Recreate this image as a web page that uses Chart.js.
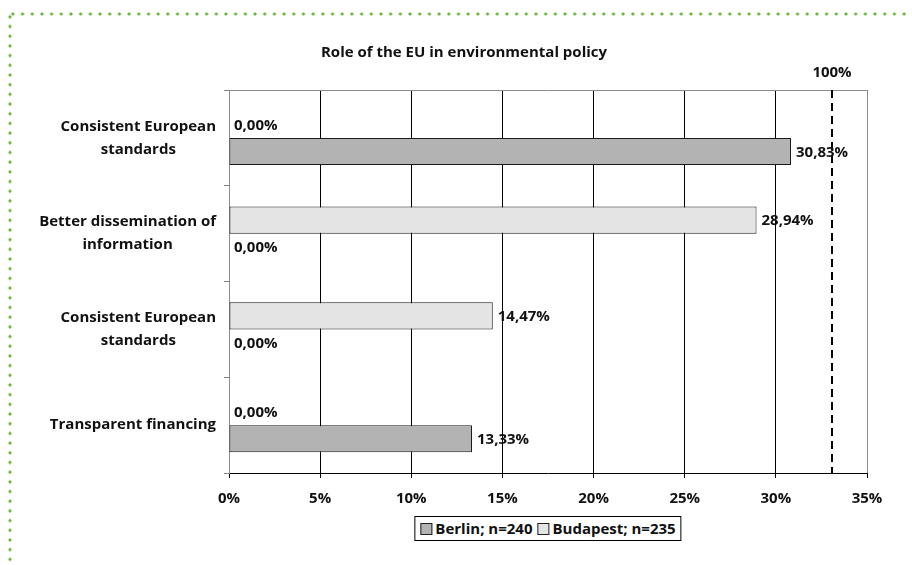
<!DOCTYPE html>
<html>
<head>
<meta charset="utf-8">
<script src="https://cdn.jsdelivr.net/npm/chart.js@4.4.0/dist/chart.umd.min.js"></script>
<style>
    html, body { margin: 0; padding: 0; background: #fff; }
    #wrap { position: relative; width: 912px; height: 565px; overflow: hidden; }
    #chart { position: absolute; left: 0; top: 0; }
    .dots-top {
        position: absolute; left: 8px; top: 12px; width: 904px; height: 4px;
        background: radial-gradient(circle, #6ab536 1.3px, transparent 1.8px) 0 0 / 9.7px 4px repeat-x;
    }
    .dots-left {
        position: absolute; left: 8px; top: 12px; width: 4px; height: 553px;
        background: radial-gradient(circle, #6ab536 1.3px, transparent 1.8px) 0 0 / 4px 9.7px repeat-y;
    }
    #legend {
        position: absolute; left: 548px; top: 516px; transform: translateX(-50%);
        border: 1px solid #000; padding: 1px 5px 2px 5px; white-space: nowrap;
        font: bold 15px "Open Sans", sans-serif; color: #111; background: #fff;
    }
    #legend span.item { display: inline-block; margin-right: 5px; }
    #legend span.item:last-child { margin-right: 0; }
    #legend i {
        display: inline-block; width: 10px; height: 10px; border: 1px solid #222;
        margin-right: 3px; vertical-align: -1px;
    }
</style>
</head>
<body>
<div id="wrap">
    <canvas id="chart" width="912" height="565"></canvas>
    <div class="dots-top"></div>
    <div class="dots-left"></div>
    <div id="legend"></div>
</div>
<script>
// data
const categories = [
    ["Consistent European", "standards"],
    ["Better dissemination of", "information"],
    ["Consistent European", "standards"],
    ["Transparent financing"]
];
const berlin   = [30.83, 0, 0, 13.33];
const budapest = [0, 28.94, 14.47, 0];
const seriesNames = ["Berlin; n=240", "Budapest; n=235"];
const xTickMax = 35;
const xTickStep = 5;
const refLine = 33.1;      // dashed "100%" marker
const refLabel = "100%";
const chartTitle = "Role of the EU in environmental policy";

const FONT = '"Open Sans", sans-serif';
const FONT_SIZE = 15;
const BERLIN_COLOR = '#b3b3b3';
const BUDAPEST_COLOR = '#e4e4e4';

function pct(v) {
    return v.toFixed(2).replace('.', ',') + '%';
}

// value labels, dashed line, title, category labels
const decorations = {
    id: 'decorations',
    afterDatasetsDraw(chart) {
        const ctx = chart.ctx;
        const area = chart.chartArea;
        const x = chart.scales.x;
        const y = chart.scales.y;

        // dashed reference line
        const rx = Math.round(x.getPixelForValue(refLine));
        ctx.save();
        ctx.strokeStyle = '#000';
        ctx.lineWidth = 2;
        ctx.setLineDash([8, 5]);
        ctx.beginPath();
        ctx.moveTo(rx, area.top);
        ctx.lineTo(rx, area.bottom);
        ctx.stroke();
        ctx.restore();

        // bar value labels
        ctx.save();
        ctx.font = 'bold ' + FONT_SIZE + 'px ' + FONT;
        ctx.fillStyle = '#111';
        ctx.textAlign = 'left';
        ctx.textBaseline = 'middle';
        chart.data.datasets.forEach((ds, di) => {
            chart.getDatasetMeta(di).data.forEach((bar, i) => {
                ctx.fillText(pct(ds.data[i]), bar.x + 5, bar.y + 1);
            });
        });

        // category labels: block right aligned, lines centred
        categories.forEach((lines, i) => {
            const cy = y.getPixelForValue(i);
            const widths = lines.map(l => ctx.measureText(l).width);
            const maxW = Math.max(...widths);
            const cx = 216 - maxW / 2;
            const lh = 23;
            const start = cy - (lines.length - 1) * lh / 2;
            ctx.textAlign = 'center';
            lines.forEach((l, k) => ctx.fillText(l, cx, start + k * lh));
        });

        // title and marker label
        ctx.textAlign = 'center';
        ctx.fillText(chartTitle, 464, 53);
        ctx.fillText(refLabel, rx, 73);
        ctx.restore();
    }
};

new Chart(document.getElementById('chart'), {
    type: 'bar',
    data: {
        labels: categories,
        datasets: [
            {
                label: seriesNames[1],
                data: budapest,
                backgroundColor: BUDAPEST_COLOR,
                borderColor: '#1a1a1a',
                borderWidth: 1,
                borderSkipped: false
            },
            {
                label: seriesNames[0],
                data: berlin,
                backgroundColor: BERLIN_COLOR,
                borderColor: '#1a1a1a',
                borderWidth: 1,
                borderSkipped: false
            }
        ]
    },
    options: {
        indexAxis: 'y',
        responsive: false,
        animation: false,
        devicePixelRatio: 1,
        categoryPercentage: 0.565,
        barPercentage: 1,
        layout: { padding: { left: 0, right: 45, top: 90, bottom: 0 } },
        plugins: {
            legend: { display: false },
            title: { display: false },
            tooltip: { enabled: false }
        },
        scales: {
            x: {
                min: 0,
                max: xTickMax,
                ticks: {
                    stepSize: xTickStep,
                    color: '#111',
                    padding: 12,
                    font: { family: FONT, size: FONT_SIZE, weight: 'bold' },
                    callback: v => v + '%'
                },
                grid: {
                    color: c => (c.tick && (c.tick.value === 0 || c.tick.value === xTickMax)) ? '#8c8c8c' : '#000',
                    tickColor: '#000',
                    tickLength: 5
                },
                border: { color: '#000', width: 1 },
                afterFit: s => { s.height = 92; }
            },
            y: {
                ticks: { display: false },
                grid: {
                    offset: true,
                    color: c => c.index === 0 ? '#8c8c8c' : 'rgba(0,0,0,0)',
                    tickColor: '#7f7f7f',
                    tickLength: 5
                },
                border: { color: '#8c8c8c', width: 1 },
                afterFit: s => { s.width = 229; }
            }
        }
    },
    plugins: [decorations]
});

// legend (Berlin first, as in the source)
const legend = document.getElementById('legend');
legend.innerHTML = [
    [seriesNames[0], BERLIN_COLOR],
    [seriesNames[1], BUDAPEST_COLOR]
].map(([name, col]) => `<span class="item"><i style="background:${col}"></i>${name}</span>`).join('');
</script>
</body>
</html>
